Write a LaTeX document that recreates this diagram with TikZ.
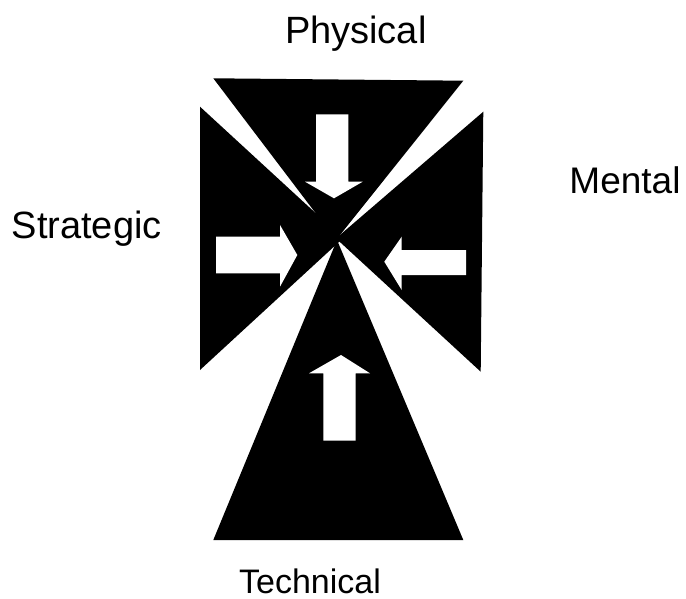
\documentclass[tikz,border=0pt]{standalone}
\usepackage{fontspec}
\setmainfont{Liberation Sans}
\usetikzlibrary{arrows.meta}

\begin{document}
\begin{tikzpicture}[x=1pt, y=-1pt, >=Stealth,
		blockarrow/.style={fill=white, draw=none},
		lbl/.style={font=\fontsize{#1}{#1}\selectfont, inner sep=0pt, anchor=base}]
	\useasboundingbox (0,0) rectangle (686,599);
	% four black wedges, their points meeting (almost) in the middle
	\fill (213.3,78.3) -- (463.3,80.7) -- (336,240) -- cycle;
	\fill (200,106.7) -- (343,238.3) -- (200,370) -- cycle;
	\fill (483.3,111.7) -- (480.7,371.7) -- (336,238.4) -- cycle;
	\fill (213.3,540) -- (337,240) -- (463.3,540) -- cycle;
	% white block arrows, all pointing inwards
	\fill[blockarrow] (316,114.3) -- (348.3,114.3) -- (348.3,181.7) -- (362.7,181.7)
		-- (334,198.3) -- (305,181.7) -- (316,181.7) -- cycle;
	\fill[blockarrow] (216,236.7) -- (280,236.7) -- (280,225) -- (297.3,255)
		-- (280,286.7) -- (280,273.3) -- (216,273.3) -- cycle;
	\fill[blockarrow] (466,250) -- (401.7,250) -- (401.7,236.7) -- (384.3,261.7)
		-- (401.7,290) -- (401.7,275) -- (466,275) -- cycle;
	\fill[blockarrow] (323.3,440.7) -- (323.3,373.3) -- (309,373.3) -- (341,355)
		-- (370,373.3) -- (355.7,373.3) -- (355.7,440.7) -- cycle;
	\node[lbl=38] (phys) at (355.8,43.3) {Physical};
	\node[lbl=37] (ment) at (625,193.3) {Mental};
	\node[lbl=38] (strat) at (86.7,238.3) {Strategic};
	\node[lbl=34] (tech) at (310,593.3) {Technical};
\end{tikzpicture}
\end{document}
